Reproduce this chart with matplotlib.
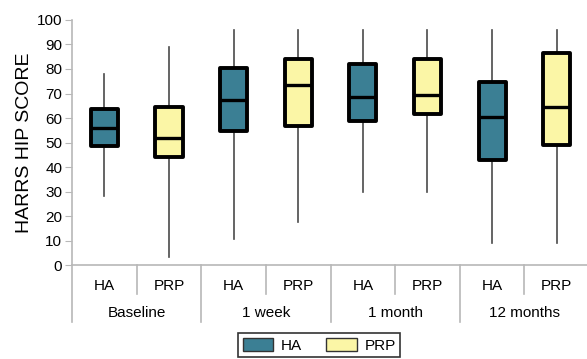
import matplotlib
matplotlib.use("Agg")
import matplotlib.pyplot as plt
from matplotlib.patches import Patch

plt.rcParams['font.family'] = ['Liberation Sans', 'DejaVu Sans']

# ====== DATA ======
timepoints = ["Baseline", "1 week", "1 month", "12 months"]
groups = ["HA", "PRP"]

# order: Baseline HA, Baseline PRP, 1 week HA, 1 week PRP, ...
whisker_low = [28.3, 3.1, 10.7, 17.7, 29.7, 29.7, 8.8, 8.8]
q1 = [48.7, 44.2, 54.6, 56.9, 58.9, 61.6, 42.9, 49.0]
medians = [56.0, 52.0, 67.2, 73.3, 68.7, 69.5, 60.4, 64.6]
q3 = [63.7, 64.6, 80.3, 84.0, 81.9, 84.0, 74.6, 86.7]
whisker_high = [78.0, 89.0, 96.0, 96.0, 96.0, 96.0, 96.0, 96.0]

colors = {"HA": "#3b7f94", "PRP": "#fbf6a6"}
grid_grey = "#b8b8b8"

# ====== FIGURE ======
fig = plt.figure(figsize=(5.87, 3.59), dpi=100)
ax = fig.add_axes([0.1227, 0.2618, 0.8808, 0.6825])

stats = []
for i in range(len(medians)):
    stats.append({
        "whislo": whisker_low[i], "q1": q1[i], "med": medians[i],
        "q3": q3[i], "whishi": whisker_high[i], "fliers": [],
    })

positions = list(range(len(stats)))
bp = ax.bxp(stats, positions=positions, widths=0.42, patch_artist=True,
            showcaps=False, showfliers=False,
            boxprops=dict(edgecolor="black", linewidth=2.8, joinstyle="round"),
            medianprops=dict(color="black", linewidth=2.4),
            whiskerprops=dict(color="#4a4a4a", linewidth=1.2))
for i, box in enumerate(bp["boxes"]):
    box.set_facecolor(colors[groups[i % 2]])
    box.set_zorder(3)
for m in bp["medians"]:
    m.set_zorder(4)

ax.set_xlim(-0.5, len(stats) - 0.5)
ax.set_ylim(0, 100)
ax.set_yticks(range(0, 101, 10))
ax.tick_params(axis="y", direction="out", length=5, color=grid_grey,
               labelsize=11, pad=2)
ax.set_xticks([])
for s in ["top", "right"]:
    ax.spines[s].set_visible(False)
ax.spines["left"].set_color(grid_grey)
ax.spines["bottom"].set_color(grid_grey)
ax.spines["left"].set_linewidth(1.2)
ax.spines["bottom"].set_linewidth(1.2)
ax.set_ylabel("HARRS HIP SCORE", fontsize=14, labelpad=3)

# ====== CATEGORY LABELS UNDER THE AXIS ======
trans = ax.get_xaxis_transform()
for i in positions:
    ax.text(i, -0.085, groups[i % 2], transform=trans, ha="center",
            va="center", fontsize=11)
for j, t in enumerate(timepoints):
    ax.text(2 * j + 0.5, -0.195, t, transform=trans, ha="center",
            va="center", fontsize=11)
    # short divider between HA and PRP
    ax.plot([2 * j + 0.5, 2 * j + 0.5], [0, -0.118], transform=trans,
            color=grid_grey, lw=1.2, clip_on=False)
for j in range(len(timepoints) + 1):
    ax.plot([2 * j - 0.5, 2 * j - 0.5], [0, -0.233], transform=trans,
            color=grid_grey, lw=1.2, clip_on=False)

# ====== LEGEND ======
handles = [Patch(facecolor=colors[g], edgecolor="#333333", linewidth=1.0,
                 label=g) for g in groups]
leg = fig.legend(handles=handles, loc="upper left",
                 bbox_to_anchor=(238 / 587, 1 - 333 / 359), ncol=2,
                 frameon=True, fancybox=False, fontsize=11,
                 handlelength=2.0, handleheight=1.0, columnspacing=1.6,
                 handletextpad=0.5, borderpad=0.3, borderaxespad=0)
leg.get_frame().set_edgecolor("black")
leg.get_frame().set_linewidth(1.2)

fig.savefig("out.png", dpi=100)
